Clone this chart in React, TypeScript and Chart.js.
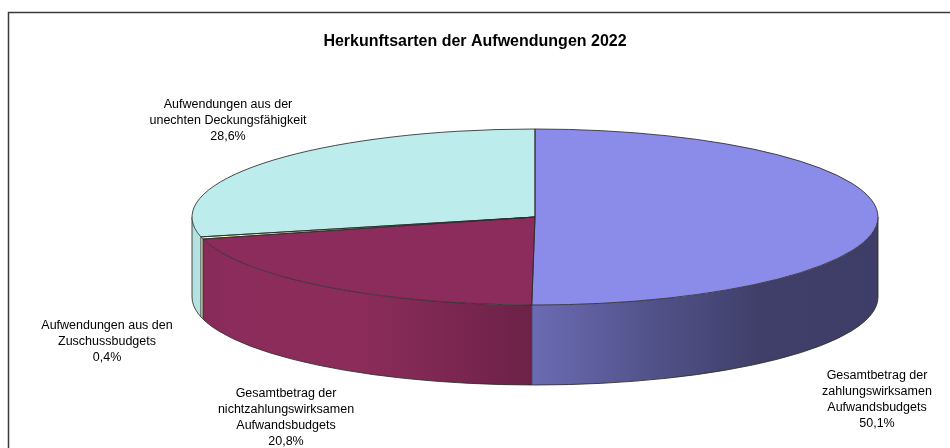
import React, { useEffect, useRef } from 'react';
import { Chart, registerables } from 'chart.js';

Chart.register(...registerables);

// ---------- data ----------
const TITLE = 'Herkunftsarten der Aufwendungen 2022';
const CATEGORIES: string[][] = [
  ['Gesamtbetrag der', 'zahlungswirksamen', 'Aufwandsbudgets'],
  ['Gesamtbetrag der', 'nichtzahlungswirksamen', 'Aufwandsbudgets'],
  ['Aufwendungen aus den', 'Zuschussbudgets'],
  ['Aufwendungen aus der', 'unechten Deckungsfähigkeit'],
];
const SHARES: number[] = [50.1, 20.8, 0.4, 28.6];
const COLORS: string[] = ['#8B8BE9', '#8C2C5C', '#FFFFC6', '#BDECEC'];

// ---------- layout / style ----------
const W = 950;
const H = 448;
const CX = 535;
const CY = 217;
const RX = 343;
const RY = 88;
const DEPTH = 80;
const FONT = '"Liberation Sans", Arial, Helvetica, sans-serif';
const LABEL_FONT_SIZE = 12.5;
const LINE_GAP = 15.8;
// centre x, y of first text line for each slice label
const LABEL_POS: [number, number][] = [
  [877, 376],
  [286, 394],
  [107, 326],
  [228, 105],
];
const OUTLINE = 'rgba(45,45,45,0.85)';

function hexToRgb(hex: string): [number, number, number] {
  const h = hex.replace('#', '');
  return [parseInt(h.slice(0, 2), 16), parseInt(h.slice(2, 4), 16), parseInt(h.slice(4, 6), 16)];
}
function shade(hex: string, f: number): string {
  const [r, g, b] = hexToRgb(hex);
  return `rgb(${Math.round(r * f)},${Math.round(g * f)},${Math.round(b * f)})`;
}
const SIDE_STOPS: [number, number][] = [
  [0, 0.95],
  [0.06, 1.0],
  [0.25, 0.99],
  [0.49, 0.78],
  [0.66, 0.6],
  [0.83, 0.45],
  [1, 0.44],
];

function frontRange(s: number, e: number): [number, number] | null {
  // visible front side: angles between 0 and PI (canvas convention)
  const TWO = Math.PI * 2;
  const ranges: [number, number][] = [];
  for (const k of [-1, 0, 1]) {
    const a0 = Math.max(s, k * TWO);
    const a1 = Math.min(e, k * TWO + Math.PI);
    if (a1 > a0) ranges.push([a0 - k * TWO, a1 - k * TWO]);
  }
  return ranges.length ? ranges[0] : null;
}

const pie3d = {
  id: 'pie3d',
  beforeDraw(chart: any) {
    const ctx = chart.ctx;
    ctx.save();
    ctx.fillStyle = '#ffffff';
    ctx.fillRect(0, 0, W, H);
    ctx.strokeStyle = '#3a3a3a';
    ctx.lineWidth = 1.5;
    ctx.strokeRect(8.5, 12.5, 1200, 1200);
    ctx.restore();
  },
  beforeDatasetsDraw(chart: any) {
    const ctx = chart.ctx;
    const arcs = chart.getDatasetMeta(0).data;
    // side walls
    ctx.save();
    arcs.forEach((arc: any, i: number) => {
      const fr = frontRange(arc.startAngle, arc.endAngle);
      if (!fr) return;
      const [a0, a1] = fr;
      const grad = ctx.createLinearGradient(CX - RX, 0, CX + RX, 0);
      SIDE_STOPS.forEach(([p, f]) => grad.addColorStop(p, shade(COLORS[i], f)));
      ctx.beginPath();
      ctx.ellipse(CX, CY, RX, RY, 0, a0, a1, false);
      ctx.ellipse(CX, CY + DEPTH, RX, RY, 0, a1, a0, true);
      ctx.closePath();
      ctx.fillStyle = grad;
      ctx.fill();
    });
    // side outlines
    ctx.strokeStyle = OUTLINE;
    ctx.lineWidth = 1;
    ctx.beginPath();
    ctx.ellipse(CX, CY + DEPTH, RX, RY, 0, 0, Math.PI, false);
    ctx.stroke();
    const edges: number[] = [0, Math.PI];
    arcs.forEach((arc: any) => {
      const a = ((arc.startAngle % (2 * Math.PI)) + 2 * Math.PI) % (2 * Math.PI);
      if (a > 0 && a < Math.PI) edges.push(a);
    });
    edges.forEach((a) => {
      const x = CX + RX * Math.cos(a);
      const y = CY + RY * Math.sin(a);
      ctx.beginPath();
      ctx.moveTo(x, y);
      ctx.lineTo(x, y + DEPTH);
      ctx.stroke();
    });
    ctx.restore();
    // map the library's circular pie onto the flattened ellipse for the top faces
    const a0 = arcs[0];
    const r = a0.outerRadius;
    ctx.save();
    ctx.translate(CX, CY);
    ctx.scale(RX / r, RY / r);
    ctx.translate(-a0.x, -a0.y);
  },
  afterDatasetsDraw(chart: any) {
    const ctx = chart.ctx;
    ctx.restore();
    const arcs = chart.getDatasetMeta(0).data;
    ctx.save();
    ctx.strokeStyle = OUTLINE;
    ctx.lineWidth = 1;
    arcs.forEach((arc: any) => {
      ctx.beginPath();
      ctx.moveTo(CX, CY);
      ctx.ellipse(CX, CY, RX, RY, 0, arc.startAngle, arc.endAngle, false);
      ctx.closePath();
      ctx.stroke();
    });
    ctx.restore();
  },
  afterDraw(chart: any) {
    const ctx = chart.ctx;
    ctx.save();
    ctx.fillStyle = '#000000';
    ctx.font = `${LABEL_FONT_SIZE}px ${FONT}`;
    ctx.textAlign = 'center';
    ctx.textBaseline = 'middle';
    CATEGORIES.forEach((lines, i) => {
      const all = [...lines, SHARES[i].toFixed(1).replace('.', ',') + '%'];
      const [x, y] = LABEL_POS[i];
      all.forEach((t, k) => ctx.fillText(t, x, y + k * LINE_GAP));
    });
    ctx.restore();
  },
};

export default function App() {
  const ref = useRef<HTMLCanvasElement | null>(null);
  useEffect(() => {
    if (!ref.current) return;
    const chart = new Chart(ref.current, {
      type: 'pie',
      data: {
        labels: CATEGORIES.map((c) => c.join(' ')),
        datasets: [
          {
            data: SHARES,
            backgroundColor: COLORS,
            borderWidth: 0,
            hoverOffset: 0,
            clip: false as any,
          },
        ],
      },
      options: {
        responsive: false,
        animation: false,
        events: [],
        layout: { padding: 0 },
        plugins: {
          legend: { display: false },
          tooltip: { enabled: false },
          title: {
            display: true,
            text: TITLE,
            color: '#000000',
            font: { family: FONT, size: 16, weight: 'bold' },
            padding: { top: 32, bottom: 10 },
          },
        },
      },
      plugins: [pie3d],
    });
    return () => chart.destroy();
  }, []);
  return (
    <div style={{ position: 'fixed', left: 0, top: 0, width: W, height: H, background: '#fff' }}>
      <canvas ref={ref} width={W} height={H} style={{ width: W, height: H, display: 'block' }} />
    </div>
  );
}
